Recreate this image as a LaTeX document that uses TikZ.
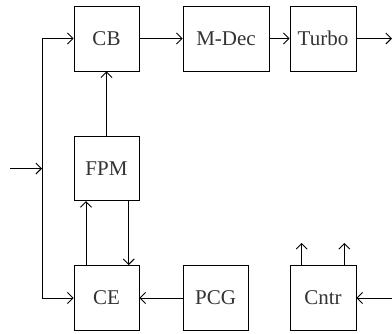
\documentclass[tikz,border=0pt]{standalone}
\usepackage{fontspec}
\setmainfont{Liberation Serif}
\usetikzlibrary{arrows.meta}
\begin{document}
\begin{tikzpicture}[x=1pt,y=-1pt,
  blk/.style={draw, line width=0.9pt, minimum height=65pt, inner sep=0pt, font=\fontsize{21}{24}\selectfont, text=black!80},
  conn/.style={draw, line width=0.9pt, -{Straight Barb[length=5.5pt,width=11pt,line width=0.9pt]}},
  shorten <=0pt]
\useasboundingbox (0,0) rectangle (392,333);
\node[blk, minimum width=65pt] (cb) at (106.5,38.5) {CB};
\node[blk, minimum width=86pt] (mdec) at (226,38.5) {M-Dec};
\node[blk, minimum width=66pt] (turbo) at (323,38.5) {Turbo};
\node[blk, minimum width=65pt, minimum height=64.5pt] (fpm) at (106.5,168.5) {FPM};
\node[blk, minimum width=65pt] (ce) at (106.5,298) {CE};
\node[blk, minimum width=65pt] (pcg) at (215.5,298) {PCG};
\node[blk, minimum width=66pt] (cntr) at (323,298) {Cntr};
\coordinate (out) at (392,38.5);
\coordinate (in) at (10,168.5);
\coordinate (bus) at (42,168.5);
\coordinate (bustop) at (42,38.5);
\coordinate (busbot) at (42,298);
\coordinate (cin) at (392,298);
\coordinate (u1) at (301.7,243);
\coordinate (u2) at (344.3,243);
\draw[conn] (cb) -- (mdec);
\draw[conn] (mdec) -- (turbo);
\draw[conn] (turbo) -- (out);
\draw[conn] (in) -- (bus);
\draw[line width=0.9pt] (bustop) -- (busbot);
\draw[conn] (bustop) -- (cb);
\draw[conn] (busbot) -- (ce);
\draw[conn] (fpm) -- (cb);
\draw[conn] (ce.north -| 86,0) -- (fpm.south -| 86,0);
\draw[conn] (fpm.south -| 128.7,0) -- (ce.north -| 128.7,0);
\draw[conn] (pcg) -- (ce);
\draw[conn] (cin) -- (cntr);
\draw[conn] (cntr.north -| u1) -- (u1);
\draw[conn] (cntr.north -| u2) -- (u2);
\end{tikzpicture}
\end{document}
